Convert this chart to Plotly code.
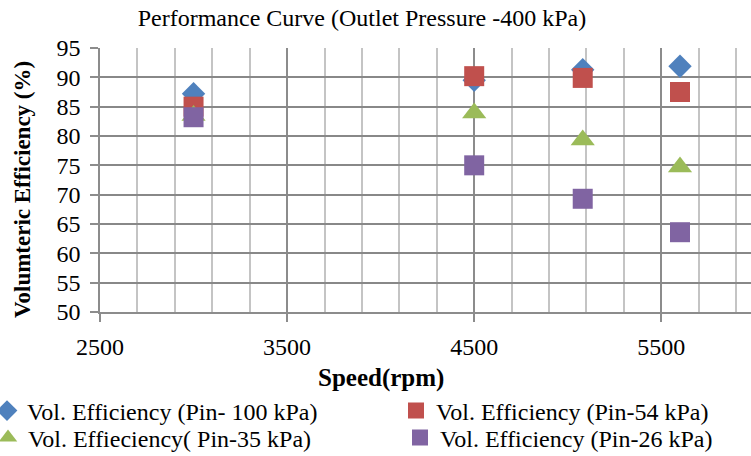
import plotly.graph_objects as go

speed = [3000, 4500, 5080, 5600]
eff_100 = [87.2, 89.5, 91.3, 91.9]
eff_54 = [85.0, 90.2, 89.9, 87.5]
eff_35 = [83.5, 83.9, 79.3, 74.7]
eff_26 = [83.2, 75.0, 69.3, 63.6]

names = ["Vol. Efficiency (Pin- 100 kPa)", "Vol. Efficiency (Pin-54 kPa)",
         "Vol. Effieciency( Pin-35 kPa)", "Vol. Efficiency (Pin-26 kPa)"]

FONT = "Liberation Serif"

fig = go.Figure()
series = [
    (eff_100, "#4F81BD", "diamond", 18, "legend"),
    (eff_54, "#C0504D", "square", 20, "legend2"),
    (eff_35, "#9BBB59", "triangle-up", 21, "legend3"),
    (eff_26, "#8064A2", "square", 20, "legend4"),
]
for i in range(4):
    vals, col, sym, sz, lg = series[i]
    fig.add_trace(go.Scatter(x=speed, y=vals, mode="markers", name=names[i],
                             marker=dict(color=col, symbol=sym, size=sz, line=dict(width=0)),
                             legend=lg))

W, H = 751, 456
L, T, B = 100, 48, 312
PW, PH = W - L, B - T

def px(xp):
    return (xp - L) / PW

def py(yp):
    return (B - yp) / PH

legfont = dict(family=FONT, size=24, color="black")
leg_common = dict(font=legfont, bgcolor="rgba(0,0,0,0)", borderwidth=0,
                  yanchor="middle", xanchor="left", itemwidth=30)

fig.update_layout(
    width=W, height=H,
    margin=dict(l=L, r=0, t=T, b=H - B, autoexpand=False),
    paper_bgcolor="white", plot_bgcolor="white",
    showlegend=True,
    legend=dict(x=px(-13), y=py(411), **leg_common),
    legend2=dict(x=px(396), y=py(411), **leg_common),
    legend3=dict(x=px(-12), y=py(438), **leg_common),
    legend4=dict(x=px(400), y=py(438), **leg_common),
    title=dict(text="Performance Curve (Outlet Pressure -400 kPa)",
               font=dict(family=FONT, size=24, color="black"),
               x=362 / W, xanchor="center", xref="container",
               y=1 - 18 / H, yanchor="middle", yref="container"),
    font=dict(family=FONT, color="black"),
)

fig.update_xaxes(
    range=[2500, 2500 + PW / 0.1871], tick0=2500, dtick=1000,
    showgrid=True, gridcolor="#8c8c8c", gridwidth=1.5,
    minor=dict(dtick=200, tick0=2500, showgrid=True, gridcolor="#c4c4c4", gridwidth=1.5),
    ticks="outside", ticklen=8, tickcolor="#8c8c8c", tickwidth=1.5,
    showline=True, linecolor="#8c8c8c", linewidth=1.5,
    tickfont=dict(family=FONT, size=24, color="black"), ticklabelstandoff=4,
    zeroline=False,
)
fig.update_yaxes(
    range=[50, 95], dtick=5, tick0=50,
    showgrid=True, gridcolor="#888888", gridwidth=1.5,
    ticks="outside", ticklen=8, tickcolor="#8c8c8c", tickwidth=1.5,
    showline=True, linecolor="#8c8c8c", linewidth=1.5,
    tickfont=dict(family=FONT, size=24, color="black"), ticklabelstandoff=5,
    zeroline=False,
)

fig.add_annotation(text="<b>Speed(rpm)</b>", xref="paper", yref="paper",
                   x=px(381), y=py(378), xanchor="center", yanchor="middle",
                   showarrow=False, font=dict(family=FONT, size=25, color="black"))
fig.add_annotation(text="<b>Volumteric Efficiency (%)</b>", xref="paper", yref="paper",
                   x=px(22), y=py(190), xanchor="center", yanchor="middle", textangle=-90,
                   showarrow=False, font=dict(family=FONT, size=23, color="black"))

fig.write_html("out.html", config={"displayModeBar": False},
               post_script="document.body.style.margin='0';")
